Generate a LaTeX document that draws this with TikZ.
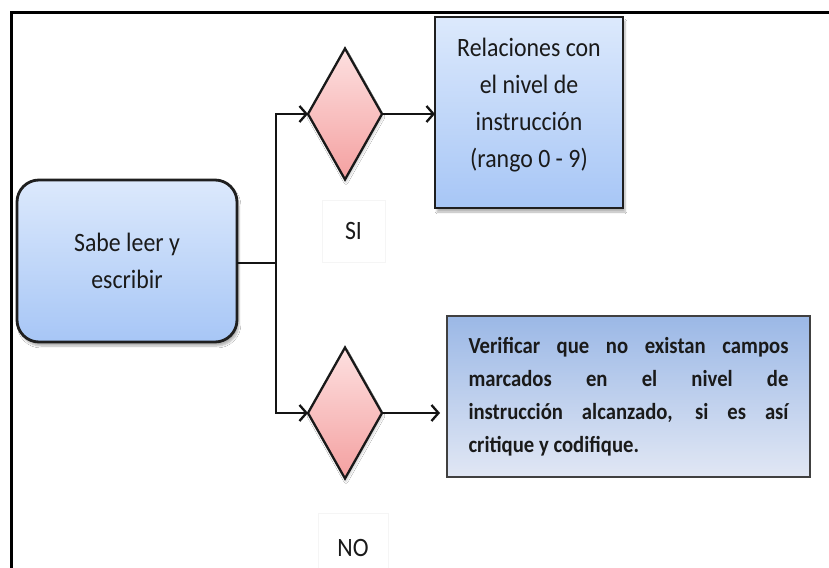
\documentclass[tikz,border=0pt]{standalone}
\usepackage{fontspec}
\setmainfont{Carlito}
\newfontfamily\tallfont[FakeStretch=0.9]{Carlito}
\usetikzlibrary{shapes.geometric,arrows.meta,shadows.blur}
\definecolor{txt}{HTML}{1A1A1A}
\definecolor{bluetop}{HTML}{DCE9FC}
\definecolor{bluebot}{HTML}{A7C6F6}
\definecolor{pinktop}{HTML}{FDE0E0}
\definecolor{pinkbot}{HTML}{F4A0A0}
\definecolor{vtop}{HTML}{9BB8E6}
\definecolor{vbot}{HTML}{E1E7F4}
\begin{document}
\begin{tikzpicture}[x=1pt,y=-1pt,
  conn/.style={line width=2.8pt, draw=black!92},
  arr/.style={conn, -{Straight Barb[length=7pt,width=16pt,line width=2.3pt]}},
  shade/.style={blur shadow={shadow xshift=2pt,shadow yshift=-4pt,shadow blur steps=6,shadow opacity=30}},
  bluebox/.style={draw=black!88, line width=2.8pt, top color=bluetop, bottom color=bluebot, shade,
    text=txt, align=center, inner sep=0pt, outer sep=0pt, font=\tallfont\fontsize{26.5}{37}\selectfont},
  decision/.style={diamond, draw=black!90, line width=2.3pt, top color=pinktop, bottom color=pinkbot,
    minimum width=74pt, minimum height=131pt, inner sep=0pt, outer sep=0pt,
    blur shadow={shadow xshift=1pt,shadow yshift=-3pt,shadow blur steps=5,shadow opacity=20}},
  lab/.style={draw=black!4, line width=0.8pt, fill=white, text=txt, inner sep=0pt,
    font=\tallfont\fontsize{26.5}{28}\selectfont},
  frame/.style={line width=3pt, draw=black}
]
\useasboundingbox (0,0) rectangle (829,567);
\fill[white] (0,0) rectangle (829,567);
\draw[frame] (11,600) -- (11,13) -- (835,13);

\node[bluebox, rounded corners=22pt, minimum width=220pt, minimum height=162pt] (sabe) at (127,261)
  {Sabe leer y\\escribir};
\node[bluebox, minimum width=188pt, minimum height=191pt, text depth=19pt] (rel) at (529,112.5)
  {Relaciones con\\el nivel de\\instrucción\\(rango 0 - 9)};
\node[decision] (d1) at (345,114) {};
\node[decision] (d2) at (345,413) {};
\node[lab, minimum width=63pt, minimum height=62pt] (si) at (353.5,231) {SI};
\node[lab, minimum width=70pt, minimum height=70pt] (no) at (353,548) {NO};
\node[draw=black!75, line width=1.6pt, top color=vtop, bottom color=vbot, text=txt,
  minimum width=363pt, minimum height=161pt, inner sep=0pt, outer sep=0pt, align=left,
  font=\tallfont\bfseries\fontsize{23}{33}\selectfont] (ver) at (628.5,396.5)
  {\makebox[320pt][s]{Verificar que no existan campos}\\
   \makebox[320pt][s]{marcados en el nivel de}\\
   \makebox[320pt][s]{instrucción alcanzado, si es así}\\
   critique y codifique.};

\coordinate (j) at (276,263);
\coordinate (e2) at (440,413);
\draw[conn] (sabe.east |- j) -- (j);
\draw[arr] (j) |- (d1.west);
\draw[arr] (j) |- (d2.west);
\draw[arr] (d1.east) -- (d1.east -| rel.west);
\draw[arr] (d2.east) -- (e2);
\end{tikzpicture}
\end{document}
